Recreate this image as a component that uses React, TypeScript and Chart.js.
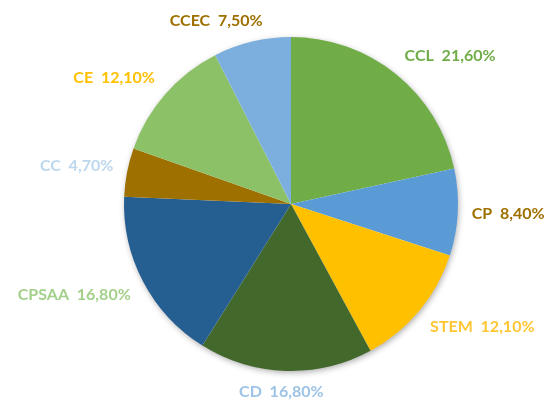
import React, { useEffect, useRef } from "react";
import { Chart, registerables } from "chart.js";

Chart.register(...registerables);

const categories = ["CCL", "CP", "STEM", "CD", "CPSAA", "CC", "CE", "CCEC"];
const values = [21.6, 8.4, 12.1, 16.8, 16.8, 4.7, 12.1, 7.5];
const sliceColors = ["#70AD47", "#5B9BD5", "#FFC000", "#43682B", "#255E91", "#9E7000", "#8CC168", "#7CAFDD"];
const labelColors = ["#70AD47", "#9E7000", "#FFC634", "#9DC3E6", "#A3D08A", "#BDD7EE", "#FFC000", "#9E7000"];

const fmt = (v: number) => v.toFixed(2).replace(".", ",") + "%";

const shadowPlugin = {
  id: "pieShadow",
  beforeDatasetsDraw(chart: any) {
    const arc = chart.getDatasetMeta(0).data[0];
    if (!arc) return;
    const ctx = chart.ctx;
    ctx.save();
    ctx.shadowColor = "rgba(0,0,0,0.35)";
    ctx.shadowBlur = 6;
    ctx.shadowOffsetX = 1;
    ctx.shadowOffsetY = 2;
    ctx.fillStyle = "#ffffff";
    ctx.beginPath();
    ctx.arc(arc.x, arc.y, arc.outerRadius - 0.5, 0, Math.PI * 2);
    ctx.fill();
    ctx.restore();
  },
};

const labelPlugin = {
  id: "outsideLabels",
  afterDatasetsDraw(chart: any) {
    const ctx = chart.ctx;
    const meta = chart.getDatasetMeta(0);
    ctx.save();
    ctx.font = "bold 16px Lato";
    ctx.textAlign = "center";
    ctx.textBaseline = "middle";
    meta.data.forEach((a: any, i: number) => {
      const mid = (a.startAngle + a.endAngle) / 2;
      const dx = Math.cos(mid);
      const dy = Math.sin(mid);
      const r = a.outerRadius + 14;
      const px = a.x + dx * r;
      const py = a.y + dy * r;
      const text = categories[i] + "  " + fmt(values[i]);
      const w = ctx.measureText(text).width;
      const h = 14;
      const kx = Math.max(-1, Math.min(1, dx * 3));
      const ky = Math.max(-1, Math.min(1, dy * 3));
      ctx.fillStyle = labelColors[i];
      ctx.fillText(text, px + (kx * w) / 2, py + (ky * h) / 2);
    });
    ctx.restore();
  },
};

export default function App() {
  const ref = useRef<HTMLCanvasElement | null>(null);
  useEffect(() => {
    document.body.style.margin = "0";
    if (!ref.current) return;
    const chart = new Chart(ref.current, {
      type: "pie",
      data: {
        labels: categories,
        datasets: [
          {
            data: values,
            backgroundColor: sliceColors,
            borderWidth: 0,
          },
        ],
      },
      options: {
        animation: false,
        responsive: false,
        layout: { padding: { top: 37, bottom: 30, left: 124, right: 92 } },
        plugins: {
          legend: { display: false },
          tooltip: { enabled: false },
        },
      },
      plugins: [shadowPlugin, labelPlugin],
    });
    return () => chart.destroy();
  }, []);
  return (
    <div style={{ width: 550, height: 401, background: "#fff" }}>
      <canvas ref={ref} width={550} height={401} style={{ display: "block" }} />
    </div>
  );
}
